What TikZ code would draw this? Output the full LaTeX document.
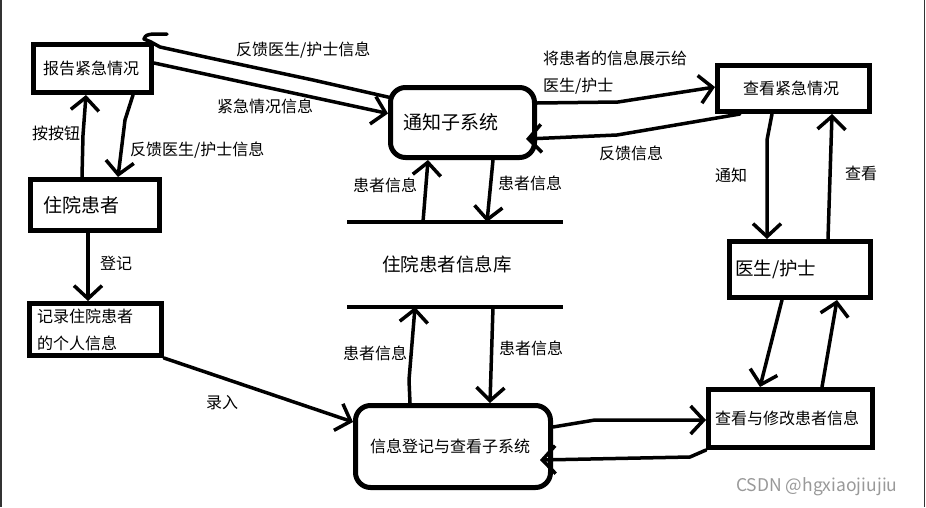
\documentclass[tikz,border=0pt]{standalone}
\usepackage{fontspec}
\setmainfont{Noto Sans CJK SC}
\usetikzlibrary{arrows.meta}
\begin{document}
\begin{tikzpicture}[x=1pt,y=-1pt,
  box/.style={draw, line width=5pt, rectangle, inner ysep=2pt, align=left},
  rbox/.style={box, rounded corners=15pt},
  fa/.style={font=\fontsize{16pt}{19pt}\selectfont},
  fb/.style={font=\fontsize{19pt}{22pt}\selectfont},
  conn/.style={line width=3.5pt, line cap=round, line join=round},
  arr/.style={conn, -{Straight Barb[length=13pt,width=28pt]}},
  lbl/.style={fa, anchor=west, inner sep=0pt},
  storeline/.style={line width=4.5pt}
]
\useasboundingbox (0,0) rectangle (926,507);
\fill[white] (0,0) rectangle (926,507);
\draw[line width=1.5pt, black!80] (1,0) -- (1,507);
\draw[line width=1.5pt, black!80] (924.5,0) -- (924.5,507);

% boxes
\node[box, fa, text width=99pt, inner xsep=9.5pt, minimum height=48pt] (rep) at (92.5,68.5) {报告紧急情况};
\node[box, fb, text width=104pt, inner xsep=12.5pt, minimum height=51pt] (pat) at (95,205) {住院患者};
\node[box, font=\fontsize{16pt}{27pt}\selectfont, text width=117pt, inner xsep=7.5pt, minimum height=52pt] (rec) at (95.5,329.5) {记录住院患者\\的个人信息};
\node[rbox, fb, text width=119pt, inner xsep=12.5pt, minimum height=70pt] (noti) at (462.5,122.5) {通知子系统};
\node[box, fa, text width=101pt, inner xsep=25.5pt, minimum height=46pt] (view) at (793.5,88.5) {查看紧急情况};
\node[box, font=\fontsize{18.5pt}{22pt}\selectfont, text width=130pt, inner xsep=5.5pt, minimum height=56pt] (doc) at (800,269.5) {医生/护士};
\node[box, fa, text width=151pt, inner xsep=6.5pt, minimum height=58pt] (mod) at (790.5,418.5) {查看与修改患者信息};
\node[rbox, fa, text width=166pt, inner xsep=14.5pt, minimum height=82pt] (reg) at (453,446.5) {信息登记与查看子系统};

% data store
\node[font=\fontsize{18.5pt}{22pt}\selectfont, align=left, text width=146pt, inner xsep=35pt, minimum height=85pt, outer sep=0pt] (store) at (455,264.5) {住院患者信息库};
\draw[storeline] (store.north west) -- (store.north east);
\draw[storeline] (store.south west) -- (store.south east);

% connectors
\draw[arr] ([xshift=-13pt]pat.north) -- (83,135) -- ([xshift=-6.5pt]rep.south);
\draw[arr] ([xshift=40.5pt]rep.south) -- (125,120) -- ([xshift=23pt]pat.north);
\draw[conn] ([xshift=2pt,yshift=25pt]noti.west) -- (313,80) -- (210,58) -- (160,47) -- (151,42) -- (144,39) .. controls (146,35) .. (153,34) -- (167,34);
\draw[arr] ([yshift=5.5pt]rep.east) -- ([yshift=9pt]noti.west);
\draw[arr] ([yshift=19.5pt]noti.east) -- (618,102) -- ([yshift=1.5pt]view.west);
\draw[arr] ([xshift=-53.5pt]view.south) -- (617,135) -- ([xshift=-11pt,yshift=-16.5pt]noti.east);
\draw[arr] ([xshift=-21.5pt]view.south) -- (767,140) -- ([xshift=-33pt]doc.north);
\draw[arr] ([xshift=28pt]doc.north) -- ([xshift=38.5pt]view.south);
\draw[arr] ([xshift=30.5pt]noti.south) -- ([xshift=32pt]store.north);
\draw[arr] ([xshift=-32pt]store.north) -- ([xshift=-34.5pt]noti.south);
\draw[arr] ([xshift=-43pt]reg.north) -- (409,380) -- ([xshift=-40pt]store.south);
\draw[arr] ([xshift=38pt]store.south) -- ([xshift=37pt]reg.north);
\draw[arr] ([yshift=19.5pt]reg.east) -- (595,420) -- ([yshift=-1.5pt]mod.west);
\draw[arr] (mod.south west) -- (690,457) -- ([xshift=-13pt,yshift=-13.5pt]reg.east);
\draw[arr] ([xshift=-18pt]doc.south) -- ([xshift=-30.5pt]mod.north);
\draw[arr] ([xshift=31.5pt]mod.north) -- ([xshift=37pt]doc.south);
\draw[arr] ([xshift=-7pt]pat.south) -- ([xshift=-7.5pt]rec.north);
\draw[arr] (rec.south east) -- ([yshift=24.5pt]reg.west);

% labels
\node[lbl] (l1) at (236,50) {反馈医生/护士信息};
\node[lbl] (l2) at (217,106) {紧急情况信息};
\node[lbl] (l3) at (32,133) {按按钮};
\node[lbl] (l4) at (130,150) {反馈医生/护士信息};
\node[lbl] (l5) at (100,263) {登记};
\node[lbl] (l6) at (206,403) {录入};
\node[lbl] (l7) at (543,58) {将患者的信息展示给};
\node[lbl] (l8) at (543,86) {医生/护士};
\node[lbl] (l9) at (599,153) {反馈信息};
\node[lbl] (l10) at (715,175) {通知};
\node[lbl] (l11) at (845,173) {查看};
\node[lbl] (l12) at (353,185) {患者信息};
\node[lbl] (l13) at (498,183) {患者信息};
\node[lbl] (l14) at (343,353) {患者信息};
\node[lbl] (l15) at (499,348) {患者信息};
\node[anchor=west, inner sep=0pt, font=\fontsize{17.5pt}{20pt}\selectfont, text=black!40] (wm) at (736,487) {CSDN @hgxiaojiujiu};
\end{tikzpicture}
\end{document}
